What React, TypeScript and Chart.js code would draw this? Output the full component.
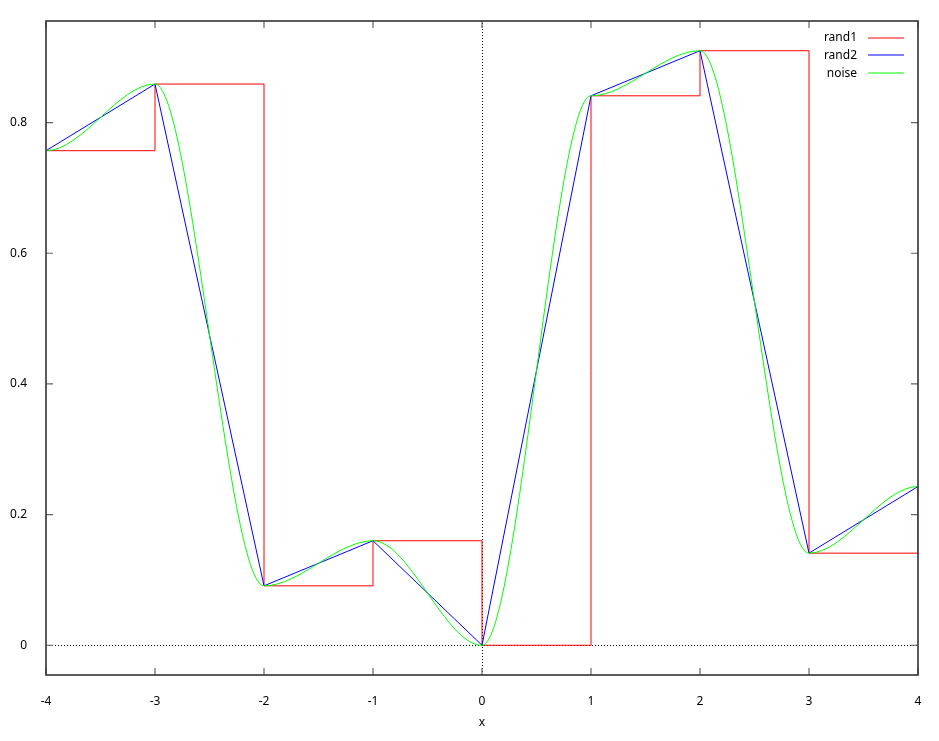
import React, { useEffect, useRef } from 'react';
import { Chart, registerables } from 'chart.js';

Chart.register(...registerables);

const xValues = [-4, -3, -2, -1, 0, 1, 2, 3, 4];
const rand1Values = [0.757, 0.859, 0.091, 0.16, 0.0, 0.841, 0.91, 0.141, 0.243];
const rand2Values = [0.757, 0.859, 0.091, 0.16, 0.0, 0.841, 0.91, 0.141, 0.243];
const noiseValues = [0.757, 0.859, 0.091, 0.16, 0.0, 0.841, 0.91, 0.141, 0.243];
const seriesLabels = ['rand1', 'rand2', 'noise'];
const seriesColors = ['#ff0000', '#0000ff', '#00ff00'];
const xTickValues = [-4, -3, -2, -1, 0, 1, 2, 3, 4];
const yTickValues = [0, 0.2, 0.4, 0.6, 0.8];
const xRange = [-4, 4];
const yRange = [-0.0455, 0.9555];
const xTitle = 'x';

const FONT = '"Noto Sans", "DejaVu Sans", sans-serif';

const gnuplotPlugin = {
  id: 'gnuplotFrame',
  beforeDatasetsDraw(chart: any) {
    const { ctx, chartArea: a, scales } = chart;
    const x0 = Math.round(scales.x.getPixelForValue(0)) + 0.5;
    const y0 = Math.round(scales.y.getPixelForValue(0)) + 0.5;
    ctx.save();
    ctx.strokeStyle = '#000';
    ctx.lineWidth = 1;
    ctx.setLineDash([1, 2]);
    ctx.beginPath();
    ctx.moveTo(a.left, y0);
    ctx.lineTo(a.right, y0);
    ctx.moveTo(x0, a.bottom);
    ctx.lineTo(x0, a.top);
    ctx.stroke();
    ctx.restore();
  },
  beforeDatasetDraw(chart: any, args: any) {
    if (args.index !== 2) return;
    const meta = args.meta;
    const line = meta.dataset;
    line.updateControlPoints(chart.chartArea, meta.iScale.axis);
    const pts = meta.data;
    for (let i = 0; i < pts.length; i++) {
      const p = pts[i];
      const prev = pts[i - 1];
      const next = pts[i + 1];
      p.cp1x = prev ? p.x - (p.x - prev.x) / 3 : p.x;
      p.cp1y = p.y;
      p.cp2x = next ? p.x + (next.x - p.x) / 3 : p.x;
      p.cp2y = p.y;
    }
  },
  afterDraw(chart: any) {
    const { ctx, chartArea: a, scales } = chart;
    ctx.save();
    // ticks (inward, mirrored)
    ctx.strokeStyle = '#666';
    ctx.lineWidth = 1.2;
    ctx.beginPath();
    const tl = 7;
    xTickValues.forEach((v) => {
      const px = scales.x.getPixelForValue(v);
      ctx.moveTo(px, a.bottom);
      ctx.lineTo(px, a.bottom - tl);
      ctx.moveTo(px, a.top);
      ctx.lineTo(px, a.top + tl);
    });
    yTickValues.forEach((v) => {
      const py = scales.y.getPixelForValue(v);
      ctx.moveTo(a.left, py);
      ctx.lineTo(a.left + tl, py);
      ctx.moveTo(a.right, py);
      ctx.lineTo(a.right - tl, py);
    });
    ctx.stroke();
    // frame
    ctx.strokeStyle = '#333';
    ctx.lineWidth = 1.6;
    ctx.strokeRect(a.left, a.top, a.right - a.left, a.bottom - a.top);
    // legend
    const textRight = a.right - 61;
    const lineL = a.right - 50;
    const lineR = a.right - 14;
    const rowY0 = a.top + 16.5;
    const rowH = 17.8;
    ctx.font = '12px ' + FONT;
    ctx.textAlign = 'right';
    ctx.textBaseline = 'middle';
    chart.data.datasets.forEach((ds: any, i: number) => {
      const y = rowY0 + i * rowH;
      ctx.fillStyle = '#000';
      ctx.fillText(ds.label, textRight, y);
      ctx.strokeStyle = ds.borderColor;
      ctx.lineWidth = 1;
      ctx.beginPath();
      ctx.moveTo(lineL, Math.round(y));
      ctx.lineTo(lineR, Math.round(y));
      ctx.stroke();
    });
    ctx.restore();
  },
};

export default function App() {
  const ref = useRef<HTMLCanvasElement | null>(null);
  useEffect(() => {
    document.body.style.margin = '0';
    const canvas = ref.current;
    if (!canvas) return;
    const mk = (vals: number[]) => xValues.map((x, i) => ({ x, y: vals[i] }));
    const chart = new Chart(canvas, {
      type: 'line',
      data: {
        datasets: [
          {
            label: seriesLabels[0],
            data: mk(rand1Values),
            borderColor: seriesColors[0],
            borderWidth: 1,
            stepped: 'before',
            pointRadius: 0,
            order: 2,
          },
          {
            label: seriesLabels[1],
            data: mk(rand2Values),
            borderColor: seriesColors[1],
            borderWidth: 1,
            tension: 0,
            pointRadius: 0,
            order: 1,
          },
          {
            label: seriesLabels[2],
            data: mk(noiseValues),
            borderColor: seriesColors[2],
            borderWidth: 1,
            tension: 0.4,
            pointRadius: 0,
            order: 0,
          },
        ] as any,
      },
      options: {
        responsive: false,
        animation: false,
        events: [],
        layout: { padding: { top: 21, right: 21, left: 0, bottom: 0 } },
        plugins: { legend: { display: false }, tooltip: { enabled: false } },
        scales: {
          x: {
            type: 'linear',
            min: xRange[0],
            max: xRange[1],
            grid: { display: false },
            border: { display: false },
            afterBuildTicks: (s: any) => {
              s.ticks = xTickValues.map((v) => ({ value: v }));
            },
            afterFit: (s: any) => {
              s.height = 66;
            },
            ticks: {
              color: '#000',
              font: { family: FONT, size: 12 },
              padding: 11,
              maxRotation: 0,
              autoSkip: false,
              callback: (v: any) => String(v),
            },
            title: {
              display: true,
              text: xTitle,
              color: '#000',
              font: { family: FONT, size: 12 },
              padding: { top: 0, bottom: 11 },
            },
          },
          y: {
            type: 'linear',
            min: yRange[0],
            max: yRange[1],
            grid: { display: false },
            border: { display: false },
            afterBuildTicks: (s: any) => {
              s.ticks = yTickValues.map((v) => ({ value: v }));
            },
            afterFit: (s: any) => {
              s.width = 46;
            },
            ticks: {
              color: '#000',
              font: { family: FONT, size: 12 },
              padding: 11,
              autoSkip: false,
              callback: (v: any) => String(v),
            },
          },
        },
      } as any,
      plugins: [gnuplotPlugin],
    });
    return () => chart.destroy();
  }, []);
  return <canvas ref={ref} width={939} height={741} style={{ display: 'block' }} />;
}
